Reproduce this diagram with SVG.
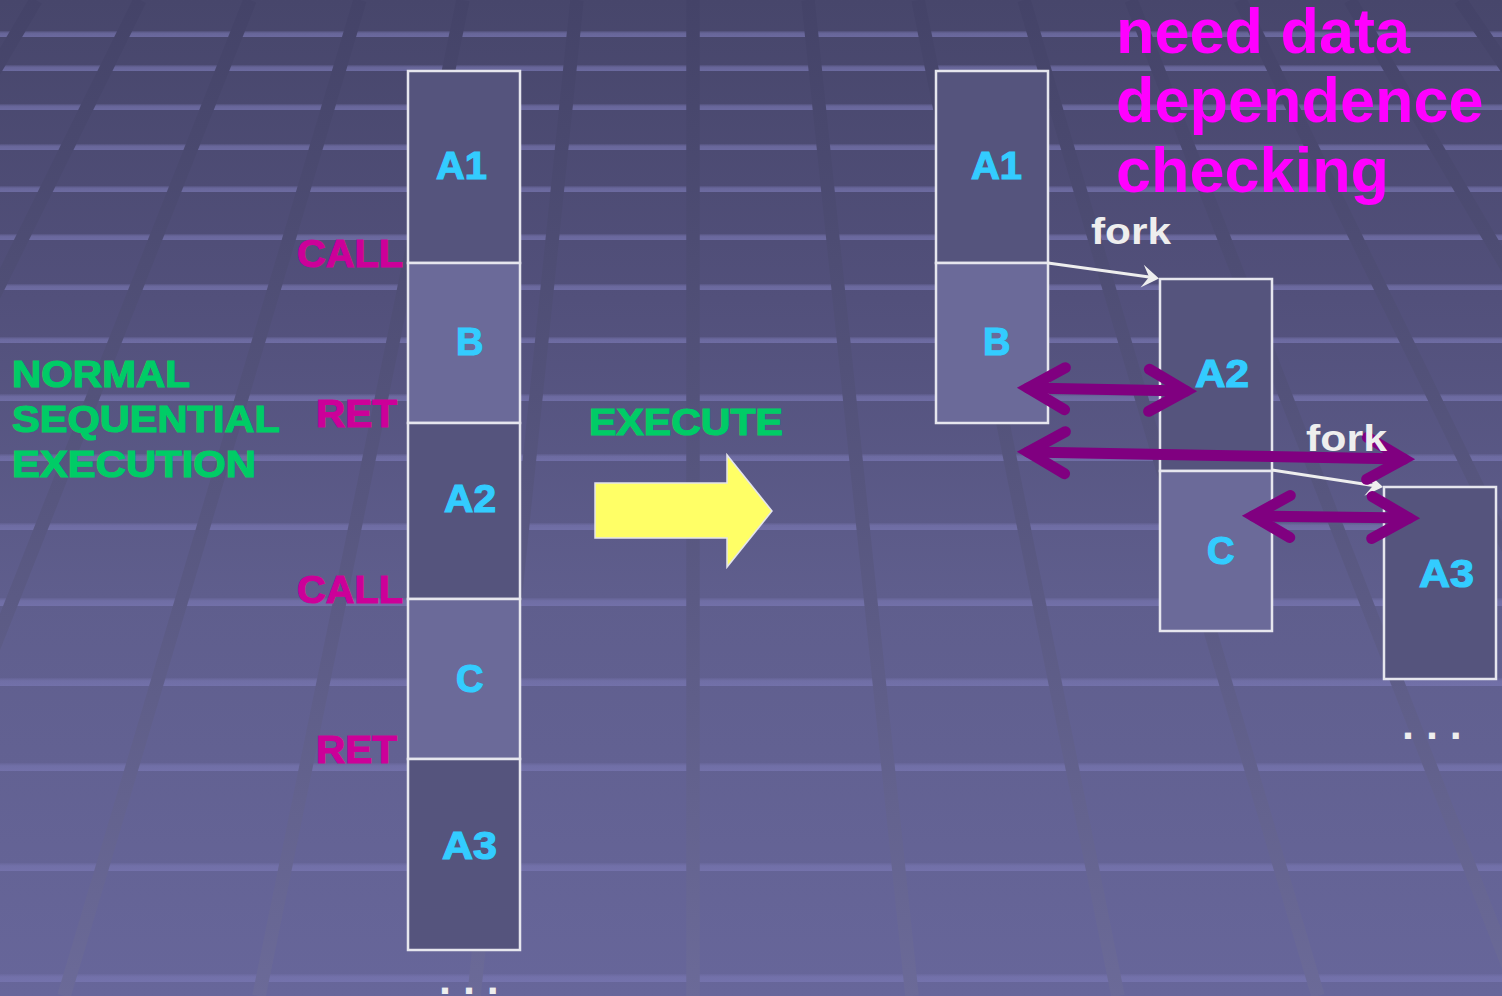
<svg xmlns="http://www.w3.org/2000/svg" width="1502" height="996" viewBox="0 0 1502 996">
  <defs>
    <linearGradient id="floor" x1="0" y1="0" x2="0" y2="996" gradientUnits="userSpaceOnUse">
      <stop offset="0" stop-color="#47466b"/>
      <stop offset="0.3" stop-color="#52507b"/>
      <stop offset="0.6" stop-color="#5f5e8d"/>
      <stop offset="1" stop-color="#67669a"/>
    </linearGradient>
    <linearGradient id="rayGrad" x1="0" y1="0" x2="0" y2="996" gradientUnits="userSpaceOnUse">
      <stop offset="0" stop-color="#444368"/>
      <stop offset="0.5" stop-color="#57567f"/>
      <stop offset="1" stop-color="#6b6a98"/>
    </linearGradient>
    <linearGradient id="bandGrad" x1="0" y1="0" x2="0" y2="1">
      <stop offset="0" stop-color="#7a78b4" stop-opacity="0.15"/>
      <stop offset="0.35" stop-color="#7a78b4" stop-opacity="0.6"/>
      <stop offset="1" stop-color="#7a78b4" stop-opacity="0.7"/>
    </linearGradient>
    <!-- barbed head for the fork connectors, tip at the origin pointing along +x -->
    <path id="forkHead" d="M0,0 L-17,-11.5 L-10,0 L-17,11.5 Z" fill="#eeeeee"/>
    <marker id="depHead" markerUnits="userSpaceOnUse" markerWidth="60" markerHeight="60" refX="0" refY="0" orient="auto-start-reverse" overflow="visible">
      <path d="M-37,-21 L0,0 L-37,21" fill="none" stroke="#800080" stroke-width="11" stroke-linecap="round" stroke-linejoin="miter"/>
    </marker>
  </defs>
  <style>
    .band { fill: url(#bandGrad); }
    .ray { stroke: url(#rayGrad); stroke-width: 13.5; fill: none; }
    .box { stroke: #e6e6ee; stroke-width: 2.5; }
    .dark { fill: #55547d; }
    .light { fill: #6b6a99; }
    text { font-family: "Liberation Sans", Arial, sans-serif; font-weight: bold; }
    .lbl { font-size: 38px; fill: #33ccff; stroke: #33ccff; stroke-width: 1.2; }
    .ctl { font-size: 38px; fill: #cc0099; stroke: #cc0099; stroke-width: 1.2; }
    .grn { font-size: 37px; fill: #00cc66; stroke: #00cc66; stroke-width: 1.2; }
    .fork { font-size: 37px; fill: #eeeeee; }
    .note { font-size: 63px; fill: #ff00ff; }
    .dots { font-size: 43px; fill: #eeeeee; }
    .dep { fill: none; stroke: #800080; stroke-width: 11; stroke-linecap: round; marker-start: url(#depHead); marker-end: url(#depHead); }
    .forkline { fill: none; stroke: #eeeeee; stroke-width: 3; }
  </style>

  <!-- perspective floor -->
  <g id="background">
    <rect x="0" y="0" width="1502" height="996" fill="url(#floor)"/>
    <g id="bands">
      <rect class="band" x="0" y="31" width="1502" height="6"/>
      <rect class="band" x="0" y="65" width="1502" height="6"/>
      <rect class="band" x="0" y="104" width="1502" height="6"/>
      <rect class="band" x="0" y="144" width="1502" height="6"/>
      <rect class="band" x="0" y="186" width="1502" height="6"/>
      <rect class="band" x="0" y="234" width="1502" height="6"/>
      <rect class="band" x="0" y="284" width="1502" height="6"/>
      <rect class="band" x="0" y="337" width="1502" height="6"/>
      <rect class="band" x="0" y="394" width="1502" height="7"/>
      <rect class="band" x="0" y="454" width="1502" height="7"/>
      <rect class="band" x="0" y="523" width="1502" height="7"/>
      <rect class="band" x="0" y="598" width="1502" height="8"/>
      <rect class="band" x="0" y="678" width="1502" height="8"/>
      <rect class="band" x="0" y="763" width="1502" height="8"/>
      <rect class="band" x="0" y="863" width="1502" height="8"/>
      <rect class="band" x="0" y="974" width="1502" height="8"/>
    </g>
    <g id="rays">
      <line class="ray" x1="36" y1="0" x2="-548" y2="996"/>
      <line class="ray" x1="140" y1="0" x2="-352" y2="996"/>
      <line class="ray" x1="250" y1="0" x2="-144" y2="996"/>
      <line class="ray" x1="360" y1="0" x2="64" y2="996"/>
      <line class="ray" x1="463" y1="0" x2="259" y2="996"/>
      <line class="ray" x1="577" y1="0" x2="474" y2="996"/>
      <line class="ray" x1="693" y1="0" x2="693" y2="996"/>
      <line class="ray" x1="808" y1="0" x2="912" y2="996"/>
      <line class="ray" x1="918" y1="0" x2="1118" y2="996"/>
      <line class="ray" x1="1024" y1="0" x2="1318" y2="996"/>
      <line class="ray" x1="1131" y1="0" x2="1520" y2="996"/>
      <line class="ray" x1="1240" y1="0" x2="1726" y2="996"/>
      <line class="ray" x1="1350" y1="0" x2="1934" y2="996"/>
      <line class="ray" x1="1460" y1="0" x2="2142" y2="996"/>
    </g>
  </g>

  <!-- sequential column -->
  <g id="seq-A1"><rect class="box dark" x="408" y="71" width="112" height="192"/><text class="lbl" x="436" y="179" textLength="51" lengthAdjust="spacingAndGlyphs">A1</text></g>
  <g id="seq-B"><rect class="box light" x="408" y="263" width="112" height="160"/><text class="lbl" x="456" y="355">B</text></g>
  <g id="seq-A2"><rect class="box dark" x="408" y="423" width="112" height="176"/><text class="lbl" x="444" y="512" textLength="52" lengthAdjust="spacingAndGlyphs">A2</text></g>
  <g id="seq-C"><rect class="box light" x="408" y="599" width="112" height="160"/><text class="lbl" x="456" y="692">C</text></g>
  <g id="seq-A3"><rect class="box dark" x="408" y="759" width="112" height="191"/><text class="lbl" x="442" y="859" textLength="55" lengthAdjust="spacingAndGlyphs">A3</text></g>

  <g id="call-ret-labels">
    <text class="ctl" x="297" y="267" textLength="106" lengthAdjust="spacingAndGlyphs">CALL</text>
    <text class="ctl" x="316" y="427" textLength="81" lengthAdjust="spacingAndGlyphs">RET</text>
    <text class="ctl" x="297" y="603" textLength="106" lengthAdjust="spacingAndGlyphs">CALL</text>
    <text class="ctl" x="316" y="763" textLength="81" lengthAdjust="spacingAndGlyphs">RET</text>
  </g>

  <g id="seq-title">
    <text class="grn" x="12" y="387" textLength="178" lengthAdjust="spacingAndGlyphs">NORMAL</text>
    <text class="grn" x="12" y="432" textLength="268" lengthAdjust="spacingAndGlyphs">SEQUENTIAL</text>
    <text class="grn" x="12" y="477" textLength="244" lengthAdjust="spacingAndGlyphs">EXECUTION</text>
  </g>

  <g id="execute">
    <text class="grn" x="589" y="435" textLength="194" lengthAdjust="spacingAndGlyphs">EXECUTE</text>
    <path d="M595,483 L727,483 L727,455 L772,511 L727,567 L727,538 L595,538 Z" fill="#ffff66" stroke="#e4e4ec" stroke-width="1.5"/>
  </g>

  <!-- parallel threads -->
  <g id="par-A1"><rect class="box dark" x="936" y="71" width="112" height="192"/><text class="lbl" x="971" y="179" textLength="51" lengthAdjust="spacingAndGlyphs">A1</text></g>
  <g id="par-B"><rect class="box light" x="936" y="263" width="112" height="160"/><text class="lbl" x="983" y="355">B</text></g>
  <g id="par-A2"><rect class="box dark" x="1160" y="279" width="112" height="192"/><text class="lbl" x="1195" y="387" textLength="54" lengthAdjust="spacingAndGlyphs">A2</text></g>
  <g id="par-C"><rect class="box light" x="1160" y="471" width="112" height="160"/><text class="lbl" x="1207" y="564">C</text></g>
  <g id="par-A3"><rect class="box dark" x="1384" y="487" width="112" height="192"/><text class="lbl" x="1419" y="587" textLength="55" lengthAdjust="spacingAndGlyphs">A3</text></g>

  <g id="note">
    <text class="note" x="1116" y="53">need data</text>
    <text class="note" x="1116" y="122">dependence</text>
    <text class="note" x="1116" y="192">checking</text>
  </g>

  <g id="connectors">
    <line class="forkline" x1="1048" y1="263" x2="1149.1" y2="277.1"/>
    <use href="#forkHead" transform="translate(1159,278.5) rotate(8.2)"/>
    <line class="forkline" x1="1272" y1="470" x2="1373.1" y2="485.4"/>
    <use href="#forkHead" transform="translate(1383,487) rotate(9.2)"/>
    <line class="dep" x1="1028" y1="388" x2="1186" y2="391"/>
    <line class="dep" x1="1028" y1="452" x2="1404" y2="459"/>
    <line class="dep" x1="1253" y1="516" x2="1409" y2="518"/>
  </g>

  <g id="fork-labels">
    <text class="fork" x="1091" y="244" textLength="80" lengthAdjust="spacingAndGlyphs">fork</text>
    <text class="fork" x="1306" y="451" textLength="81" lengthAdjust="spacingAndGlyphs">fork</text>
  </g>

  <g id="ellipses">
    <text class="dots" x="1402" y="739">. . .</text>
    <text class="dots" x="439" y="994">. . .</text>
  </g>
</svg>
